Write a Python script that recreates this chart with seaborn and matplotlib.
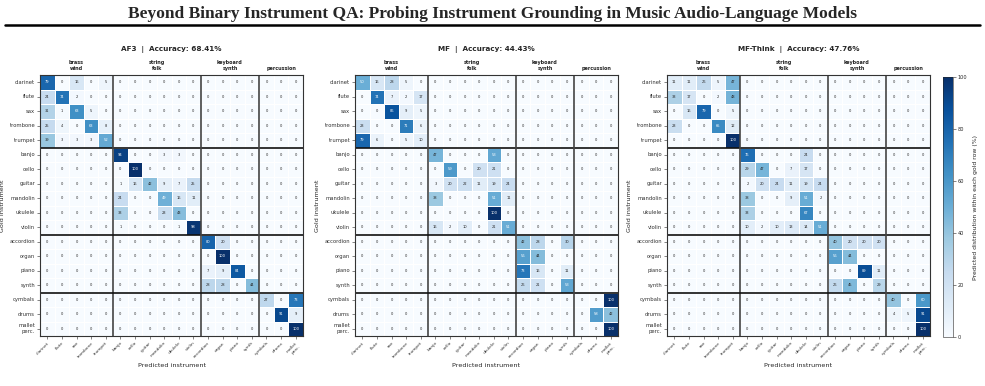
import numpy as np
import pandas as pd
import matplotlib
matplotlib.use("Agg")
import matplotlib.pyplot as plt
import seaborn as sns
from matplotlib.lines import Line2D

sns.set_theme(style="white")
plt.rcParams['font.family'] = ['DejaVu Sans']

TITLE = "Beyond Binary Instrument QA: Probing Instrument Grounding in Music Audio-Language Models"

instruments = ["clarinet", "flute", "sax", "trombone", "trumpet",
               "banjo", "cello", "guitar", "mandolin", "ukulele", "violin",
               "accordion", "organ", "piano", "synth",
               "cymbals", "drums", "mallet\nperc."]
groups = ["brass\nwind", "string\nfolk", "keyboard\nsynth", "percussion"]
group_sizes = [5, 6, 4, 3]

models = ["AF3", "MF", "MF-Think"]
accuracies = [68.41, 44.43, 47.76]

# within-group blocks (all cross-group cells are 0)
af3_brass = [[79, 0, 16, 0, 5], [24, 74, 2, 0, 0], [31, 1, 63, 5, 0],
             [25, 4, 0, 63, 8], [39, 3, 3, 3, 52]]
af3_string = [[94, 0, 0, 3, 3, 0], [0, 100, 0, 0, 0, 0], [1, 16, 42, 9, 7, 25],
              [24, 0, 0, 49, 16, 11], [33, 0, 0, 23, 43, 0], [1, 0, 0, 0, 1, 98]]
af3_keys = [[80, 20, 0, 0], [0, 100, 0, 0], [7, 9, 84, 0], [28, 28, 0, 44]]
af3_perc = [[27, 0, 73], [0, 91, 9], [0, 0, 100]]

mf_brass = [[50, 16, 28, 5, 0], [0, 74, 7, 2, 17], [0, 0, 86, 9, 5],
            [23, 0, 0, 71, 6], [79, 6, 0, 5, 10]]
mf_string = [[47, 0, 0, 0, 53, 0], [0, 59, 0, 20, 21, 0], [3, 20, 22, 11, 19, 24],
             [38, 0, 0, 0, 51, 11], [0, 0, 0, 0, 100, 0], [16, 2, 10, 0, 21, 51]]
mf_keys = [[42, 28, 0, 30], [56, 44, 0, 0], [73, 16, 0, 11], [26, 21, 0, 53]]
mf_perc = [[0, 0, 100], [0, 58, 42], [0, 0, 100]]

mft_brass = [[11, 11, 26, 5, 47], [33, 17, 0, 2, 48], [0, 16, 79, 0, 5],
             [23, 0, 0, 65, 12], [0, 0, 0, 0, 100]]
mft_string = [[76, 0, 0, 0, 24, 0], [29, 47, 0, 7, 17, 0], [2, 20, 24, 11, 19, 24],
              [38, 0, 0, 9, 51, 2], [33, 0, 0, 0, 67, 0], [10, 2, 10, 13, 14, 51]]
mft_keys = [[40, 20, 20, 20], [56, 44, 0, 0], [0, 0, 89, 11], [26, 45, 0, 29]]
mft_perc = [[40, 0, 60], [4, 5, 91], [0, 0, 100]]

blocks = [[af3_brass, af3_string, af3_keys, af3_perc],
          [mf_brass, mf_string, mf_keys, mf_perc],
          [mft_brass, mft_string, mft_keys, mft_perc]]


def assemble(bl):
    n = sum(group_sizes)
    m = np.zeros((n, n), dtype=int)
    start = 0
    for b, s in zip(bl, group_sizes):
        m[start:start + s, start:start + s] = np.array(b)
        start += s
    return pd.DataFrame(m, index=instruments, columns=instruments)


W, H = 985, 386
fig = plt.figure(figsize=(W / 100, H / 100), dpi=100)

fig.text(0.5, 1 - 14 / H, TITLE, ha="center", va="center",
         fontsize=12.5, fontweight="bold", family="Liberation Serif")
fig.add_artist(Line2D([5 / W, 980 / W], [1 - 25 / H] * 2, lw=1.8, color="black"))

lefts = [40, 355, 667]
top, bottom = 75, 336
size = 263
cax = fig.add_axes([943 / W, 1 - 337 / H, 10 / W, 260 / H])

bounds = np.cumsum(group_sizes)[:-1]
centers = np.cumsum(group_sizes) - np.array(group_sizes) / 2

for i, (model, acc) in enumerate(zip(models, accuracies)):
    ax = fig.add_axes([lefts[i] / W, 1 - bottom / H, size / W, (bottom - top) / H])
    df = assemble(blocks[i])
    sns.heatmap(df, ax=ax, cmap="Blues", vmin=0, vmax=100, annot=True, fmt="d",
                annot_kws={"size": 2.6}, linewidths=0.4, linecolor="white",
                cbar=(i == 2), cbar_ax=cax if i == 2 else None, square=False)
    for b in bounds:
        ax.axhline(b, color="#111111", lw=1.2)
        ax.axvline(b, color="#444444", lw=1.2)
    for sp in ax.spines.values():
        sp.set_visible(True)
        sp.set_color("#333333")
        sp.set_linewidth(0.8)
    ax.set_xticks(np.arange(18) + 0.5)
    ax.set_yticks(np.arange(18) + 0.5)
    ax.set_xticklabels(instruments, rotation=45, ha="right", rotation_mode="anchor",
                       fontsize=3.2, color="#333333")
    ax.set_yticklabels(instruments, rotation=0, fontsize=3.8, color="#333333")
    ax.tick_params(axis="both", length=2, width=0.4, pad=1.5, bottom=True, left=True)
    ax.set_xlabel("Predicted instrument", fontsize=4.6, labelpad=3)
    ax.set_ylabel("Gold instrument", fontsize=4.6, labelpad=3)
    for g, c in zip(groups, centers):
        ax.text(c, -0.3, g, ha="center", va="bottom", fontsize=3.5, fontweight="bold")
    ax.text(9, -1.75, f"{model}  |  Accuracy: {acc:.2f}%", ha="center", va="center",
            fontsize=5.2, fontweight="bold")

cax.tick_params(labelsize=3.6, length=2, width=0.4, pad=1.5)
cax.set_yticks([0, 20, 40, 60, 80, 100])
cax.set_ylabel("Predicted distribution within each gold row (%)", fontsize=4.4, labelpad=4)
for sp in cax.spines.values():
    sp.set_linewidth(0.4)

fig.savefig("out.png", dpi=100)
